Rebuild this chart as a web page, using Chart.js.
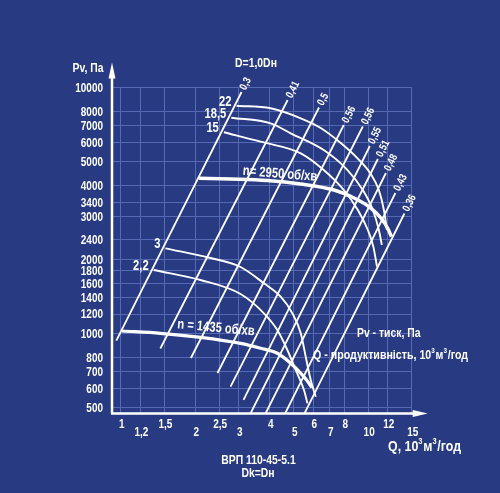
<!DOCTYPE html>
<html>
<head>
<meta charset="utf-8">
<script src="https://cdn.jsdelivr.net/npm/chart.js@4.4.1/dist/chart.umd.min.js"></script>
<style>
  html, body { margin: 0; padding: 0; background: #283a82; }
  #wrap { width: 500px; height: 493px; }
</style>
</head>
<body>
<div id="wrap"><canvas id="fan" width="500" height="493"></canvas></div>
<script>
const FONT = "'Liberation Sans', Arial, sans-serif";
const GRID = "#5669b5";
const NARROW = 0.8; // reference uses a condensed face

// axis ticks
const qTicks = [1, 1.2, 1.5, 2, 2.5, 3, 4, 5, 6, 7, 8, 10, 12, 15];
const qTickLabels = ["1", "1,2", "1,5", "2", "2,5", "3", "4", "5", "6", "7", "8", "10", "12", "15"];
const pTicks = [10000, 8000, 7000, 6000, 5000, 4000, 3400, 3000, 2400, 2000, 1800, 1600, 1400, 1200, 1000, 800, 700, 600, 500];

// n = 2950 об/хв
const q2950 = [2.07, 2.78, 3.91, 5.34, 7.28, 8.78, 10.25, 11.26, 11.98, 12.42];
const p2950 = [4274, 4246, 4188, 4053, 3831, 3555, 3237, 2948, 2685, 2475];
// n = 1435 об/хв
const q1435 = [1.011, 1.445, 2.10, 3.05, 3.675, 4.294, 4.862, 5.34, 5.768, 5.92];
const p1435 = [1024, 1002, 965, 912, 871, 831, 757, 689, 628, 602];

// motor power curves, kW
const q22 = [2.938, 4.035, 5.34, 6.43, 7.75, 9.06, 10.25, 11.05, 11.58, 11.91];
const p22 = [8433, 8231, 7496, 6845, 5948, 5154, 4450, 3831, 3177, 2635];
const q185 = [2.796, 4.035, 4.862, 6.614, 8.252, 9.517, 10.45, 11.05, 11.36];
const p185 = [7538, 7153, 6514, 5570, 4619, 3831, 3177, 2635, 2290];
const q15 = [2.61, 3.675, 5.34, 6.614, 7.97, 9.085, 9.97, 10.5, 10.86];
const p15 = [6576, 6021, 5401, 4619, 3831, 3177, 2635, 2250, 1870];
const q3 = [1.515, 2.305, 3.05, 3.79, 4.43, 4.94, 5.34, 5.593, 5.86, 6.14];
const p3 = [2220, 2027, 1864, 1600, 1411, 1208, 1002, 805, 647, 553];
const q22s = [1.358, 2.10, 3.05, 3.79, 4.294, 4.714, 5.094, 5.504, 5.682];
const p22s = [1812, 1650, 1447, 1208, 1033, 857, 711, 589, 520];
const powerLabels = ["22", "18,5", "15", "3", "2,2"];

// network lines (efficiency labels), bottom and top ends
const netLabels = ["0,3", "0,41", "0,5", "0,56", "0,56", "0,55", "0,51", "0,48", "0,43", "0,36"];
const netQlow = [0.959, 1.445, 1.921, 2.46, 2.778, 3.135, 3.335, 3.836, 4.601, 5.509];
const netPlow = [935, 869, 795, 691, 608, 537, 470, 470, 470, 470];
const netQhigh = [3.078, 4.727, 6.33, 7.97, 9.517, 10.16, 10.95, 11.8, 12.89, 14.02];
const netPhigh = [9588, 8896, 8294, 7041, 6943, 5783, 5121, 4491, 3725, 3075];

function pts(qs, ps) {
  return qs.map(function (q, i) { return { x: q, y: ps[i] }; });
}

const datasets = [];
for (let i = 0; i < netLabels.length; i++) {
  datasets.push({
    data: [{ x: netQlow[i], y: netPlow[i] }, { x: netQhigh[i], y: netPhigh[i] }],
    borderColor: "#fff", borderWidth: 1.8, pointRadius: 0, tension: 0
  });
}
const curves = [
  [q22, p22, 1.9], [q185, p185, 1.9], [q15, p15, 1.9],
  [q3, p3, 1.9], [q22s, p22s, 1.9],
  [q2950, p2950, 3.5], [q1435, p1435, 3.2]
];
curves.forEach(function (c) {
  datasets.push({
    data: pts(c[0], c[1]),
    borderColor: "#fff", borderWidth: c[2], pointRadius: 0,
    tension: 0.4, cubicInterpolationMode: "monotone"
  });
});

// condensed text: squeeze horizontally around the anchor
function txt(ctx, s, x, y, rot) {
  ctx.save();
  ctx.translate(x, y);
  if (rot) ctx.rotate(rot);
  ctx.scale(NARROW, 1);
  ctx.fillText(s, 0, 0);
  ctx.restore();
}

function richText(ctx, parts, x, y, size) {
  ctx.save();
  ctx.translate(x, y);
  ctx.scale(NARROW, 1);
  ctx.textAlign = "left";
  ctx.textBaseline = "alphabetic";
  let cx = 0;
  parts.forEach(function (p) {
    ctx.font = "bold " + (p.sup ? size * 0.6 : size) + "px " + FONT;
    ctx.fillText(p.t, cx, p.sup ? -size * 0.45 : 0);
    cx += ctx.measureText(p.t).width + (p.sup ? 1 : 0);
  });
  ctx.restore();
}

const decor = {
  id: "decor",
  afterDraw(chart) {
    const ctx = chart.ctx;
    const a = chart.chartArea;
    const xs = chart.scales.x, ys = chart.scales.y;
    ctx.save();
    ctx.fillStyle = "#fff";
    ctx.strokeStyle = "#fff";

    // axes with arrows
    ctx.lineWidth = 2.5;
    ctx.beginPath();
    ctx.moveTo(a.left, a.bottom); ctx.lineTo(a.left, a.top - 14);
    ctx.moveTo(a.left - 1, a.bottom); ctx.lineTo(a.right + 6, a.bottom);
    ctx.stroke();
    ctx.beginPath();
    ctx.moveTo(a.left, a.top - 25); ctx.lineTo(a.left - 3.5, a.top - 9); ctx.lineTo(a.left + 3.5, a.top - 9);
    ctx.closePath(); ctx.fill();
    ctx.beginPath();
    ctx.moveTo(a.right + 16, a.bottom); ctx.lineTo(a.right + 1, a.bottom - 3.5); ctx.lineTo(a.right + 1, a.bottom + 3.5);
    ctx.closePath(); ctx.fill();

    // tick labels
    ctx.font = "bold 12.5px " + FONT;
    ctx.textAlign = "right";
    ctx.textBaseline = "middle";
    pTicks.forEach(function (v) {
      txt(ctx, String(v), a.left - 9, ys.getPixelForValue(v) + 1);
    });
    ctx.textAlign = "center";
    qTicks.forEach(function (v, i) {
      txt(ctx, qTickLabels[i], xs.getPixelForValue(v) + 1, a.bottom + (i % 2 ? 19 : 11.5));
    });

    // network line labels
    ctx.font = "bold 11px " + FONT;
    ctx.textAlign = "left";
    netLabels.forEach(function (t, i) {
      const x1 = xs.getPixelForValue(netQlow[i]), y1 = ys.getPixelForValue(netPlow[i]);
      const x2 = xs.getPixelForValue(netQhigh[i]), y2 = ys.getPixelForValue(netPhigh[i]);
      const ang = Math.atan2(y2 - y1, x2 - x1);
      txt(ctx, t, x2 + Math.cos(ang) * 3, y2 + Math.sin(ang) * 3, ang);
    });

    // power labels at curve starts
    ctx.font = "bold 14px " + FONT;
    ctx.textAlign = "right";
    [[q22, p22], [q185, p185], [q15, p15], [q3, p3], [q22s, p22s]].forEach(function (c, i) {
      txt(ctx, powerLabels[i], xs.getPixelForValue(c[0][0]) - 5, ys.getPixelForValue(c[1][0]) - 4);
    });

    // speed labels
    ctx.font = "bold 14px " + FONT;
    ctx.textAlign = "center";
    txt(ctx, "n= 2950 об/хв", 280, 174, 0.08);
    txt(ctx, "n = 1435 об/хв", 216, 328, 0.09);

    // texts
    ctx.font = "bold 13px " + FONT;
    txt(ctx, "Pv, Па", 88, 68);
    txt(ctx, "D=1,0Dн", 256, 63.5);
    txt(ctx, "ВРП 110-45-5.1", 258.5, 460);
    txt(ctx, "Dk=Dн", 258, 473);
    ctx.textAlign = "left";
    txt(ctx, "Pv - тиск, Па", 357, 333);
    richText(ctx, [{ t: "Q - продуктивність, 10" }, { t: "3", sup: true }, { t: "м" }, { t: "3", sup: true }, { t: "/год" }], 313, 359, 13.3);
    richText(ctx, [{ t: "Q, 10" }, { t: "3", sup: true }, { t: "м" }, { t: "3", sup: true }, { t: "/год" }], 388, 451, 15.5);
    ctx.restore();
  }
};

new Chart(document.getElementById("fan"), {
  type: "line",
  data: { datasets: datasets },
  options: {
    responsive: false,
    animation: false,
    layout: { padding: { left: 112, top: 87.5, right: 88.3, bottom: 79.5 } },
    plugins: { legend: { display: false }, tooltip: { enabled: false } },
    scales: {
      x: {
        type: "logarithmic", min: 0.9214, max: 15,
        afterBuildTicks: function (s) { s.ticks = qTicks.map(function (v) { return { value: v }; }); },
        afterFit: function (s) { s.height = 0; },
        ticks: { display: false, autoSkip: false },
        grid: { color: GRID, lineWidth: 1, drawTicks: false },
        border: { display: false }
      },
      y: {
        type: "logarithmic", min: 473, max: 10000,
        afterBuildTicks: function (s) { s.ticks = pTicks.map(function (v) { return { value: v }; }); },
        afterFit: function (s) { s.width = 0; },
        ticks: { display: false, autoSkip: false },
        grid: { color: GRID, lineWidth: 1, drawTicks: false },
        border: { display: false }
      }
    }
  },
  plugins: [decor]
});
</script>
</body>
</html>
